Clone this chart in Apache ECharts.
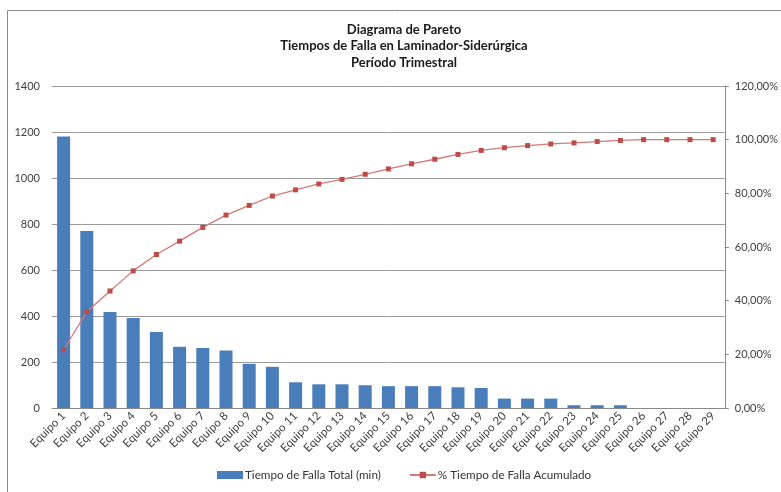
<!DOCTYPE html>
<html>
<head>
<meta charset="utf-8">
<script src="https://cdn.jsdelivr.net/npm/echarts@6/dist/echarts.min.js"></script>
<style>
  html, body { margin: 0; padding: 0; background: #fff; }
  #chart { width: 781px; height: 492px; }
</style>
</head>
<body>
<div id="chart"></div>
<script>
// Equipment list (Pareto order)
const categories = [
  'Equipo 1','Equipo 2','Equipo 3','Equipo 4','Equipo 5','Equipo 6','Equipo 7','Equipo 8',
  'Equipo 9','Equipo 10','Equipo 11','Equipo 12','Equipo 13','Equipo 14','Equipo 15','Equipo 16',
  'Equipo 17','Equipo 18','Equipo 19','Equipo 20','Equipo 21','Equipo 22','Equipo 23','Equipo 24',
  'Equipo 25','Equipo 26','Equipo 27','Equipo 28','Equipo 29'
];

// Total downtime per equipment (minutes)
const tiempoFalla = [
  1180, 770, 417, 391, 330, 266, 261, 250,
  192, 179, 112, 103, 103, 99, 95, 95,
  95, 90, 87, 41, 41, 41, 12, 12,
  12, 0, 0, 0, 0
];

// Cumulative downtime share (fraction of total)
const acumulado = [
  0.217, 0.359, 0.436, 0.511, 0.572, 0.622, 0.673, 0.719,
  0.755, 0.790, 0.813, 0.835, 0.852, 0.871, 0.891, 0.910,
  0.927, 0.945, 0.960, 0.970, 0.978, 0.984, 0.988, 0.993,
  0.997, 1.0, 1.0, 1.0, 1.0
];

const titleLines = ['Diagrama de Pareto', 'Tiempos de Falla en Laminador-Siderúrgica', 'Período Trimestral'];
const leftTicks = [0, 1400, 200];
const rightTicks = [0, 1.2, 0.2];

const FONT = 'Lato, "Open Sans", sans-serif';
const chart = echarts.init(document.getElementById('chart'), null, { renderer: 'canvas' });

chart.setOption({
  backgroundColor: '#ffffff',
  animation: false,
  textStyle: { fontFamily: FONT },
  graphic: [
    { type: 'line', shape: { x1: 7.5, y1: 10.5, x2: 781, y2: 10.5 }, style: { stroke: '#8a8a8a', lineWidth: 1 } },
    { type: 'line', shape: { x1: 7.5, y1: 10.5, x2: 7.5, y2: 492 }, style: { stroke: '#8a8a8a', lineWidth: 1 } },
    {
      type: 'text', x: 404, y: 21,
      style: {
        text: titleLines.join('\n'),
        align: 'center', verticalAlign: 'top',
        font: 'bold 13px ' + FONT, lineHeight: 16.8, fill: '#1a1a1a'
      }
    }
  ],
  legend: {
    bottom: 6,
    left: 212,
    itemGap: 28,
    itemWidth: 26,
    itemHeight: 8,
    textStyle: { fontFamily: FONT, fontSize: 11.7, color: '#333', padding: [0, 0, 0, -3] },
    data: [
      { name: 'Tiempo de Falla Total (min)', icon: 'rect' },
      { name: '% Tiempo de Falla Acumulado' }
    ]
  },
  grid: { left: 52, right: 46, top: 86, bottom: 84, containLabel: false },
  xAxis: {
    type: 'category',
    data: categories,
    axisLine: { show: true, lineStyle: { color: '#8a8a8a', width: 1 } },
    axisTick: { show: false },
    axisLabel: {
      interval: 0,
      rotate: 45,
      fontSize: 11.5,
      color: '#404040',
      margin: 6,
      fontFamily: FONT
    }
  },
  yAxis: [
    {
      type: 'value',
      min: leftTicks[0], max: leftTicks[1], interval: leftTicks[2],
      axisLine: { show: false },
      axisTick: { show: false },
      axisLabel: { fontSize: 11, color: '#404040', margin: 12, fontFamily: FONT, formatter: v => String(v) },
      splitLine: { show: true, lineStyle: { color: '#9a9a9a', width: 1 } }
    },
    {
      type: 'value',
      min: rightTicks[0], max: rightTicks[1], interval: rightTicks[2],
      position: 'right',
      axisLine: { show: true, lineStyle: { color: '#8a8a8a', width: 1 } },
      axisTick: { show: true, length: 4, lineStyle: { color: '#8a8a8a' } },
      splitLine: { show: false },
      axisLabel: {
        fontSize: 11, color: '#404040', margin: 10, fontFamily: FONT,
        formatter: v => (v * 100).toFixed(2).replace('.', ',') + '%'
      }
    }
  ],
  series: [
    {
      name: 'Tiempo de Falla Total (min)',
      type: 'bar',
      data: tiempoFalla,
      barWidth: 13,
      itemStyle: { color: '#4a7ebb' },
      yAxisIndex: 0
    },
    {
      name: '% Tiempo de Falla Acumulado',
      type: 'line',
      data: acumulado,
      yAxisIndex: 1,
      symbol: 'rect',
      symbolSize: 5,
      lineStyle: { color: '#d47a78', width: 1.3 },
      itemStyle: { color: '#be4b48' }
    }
  ]
});
</script>
</body>
</html>
